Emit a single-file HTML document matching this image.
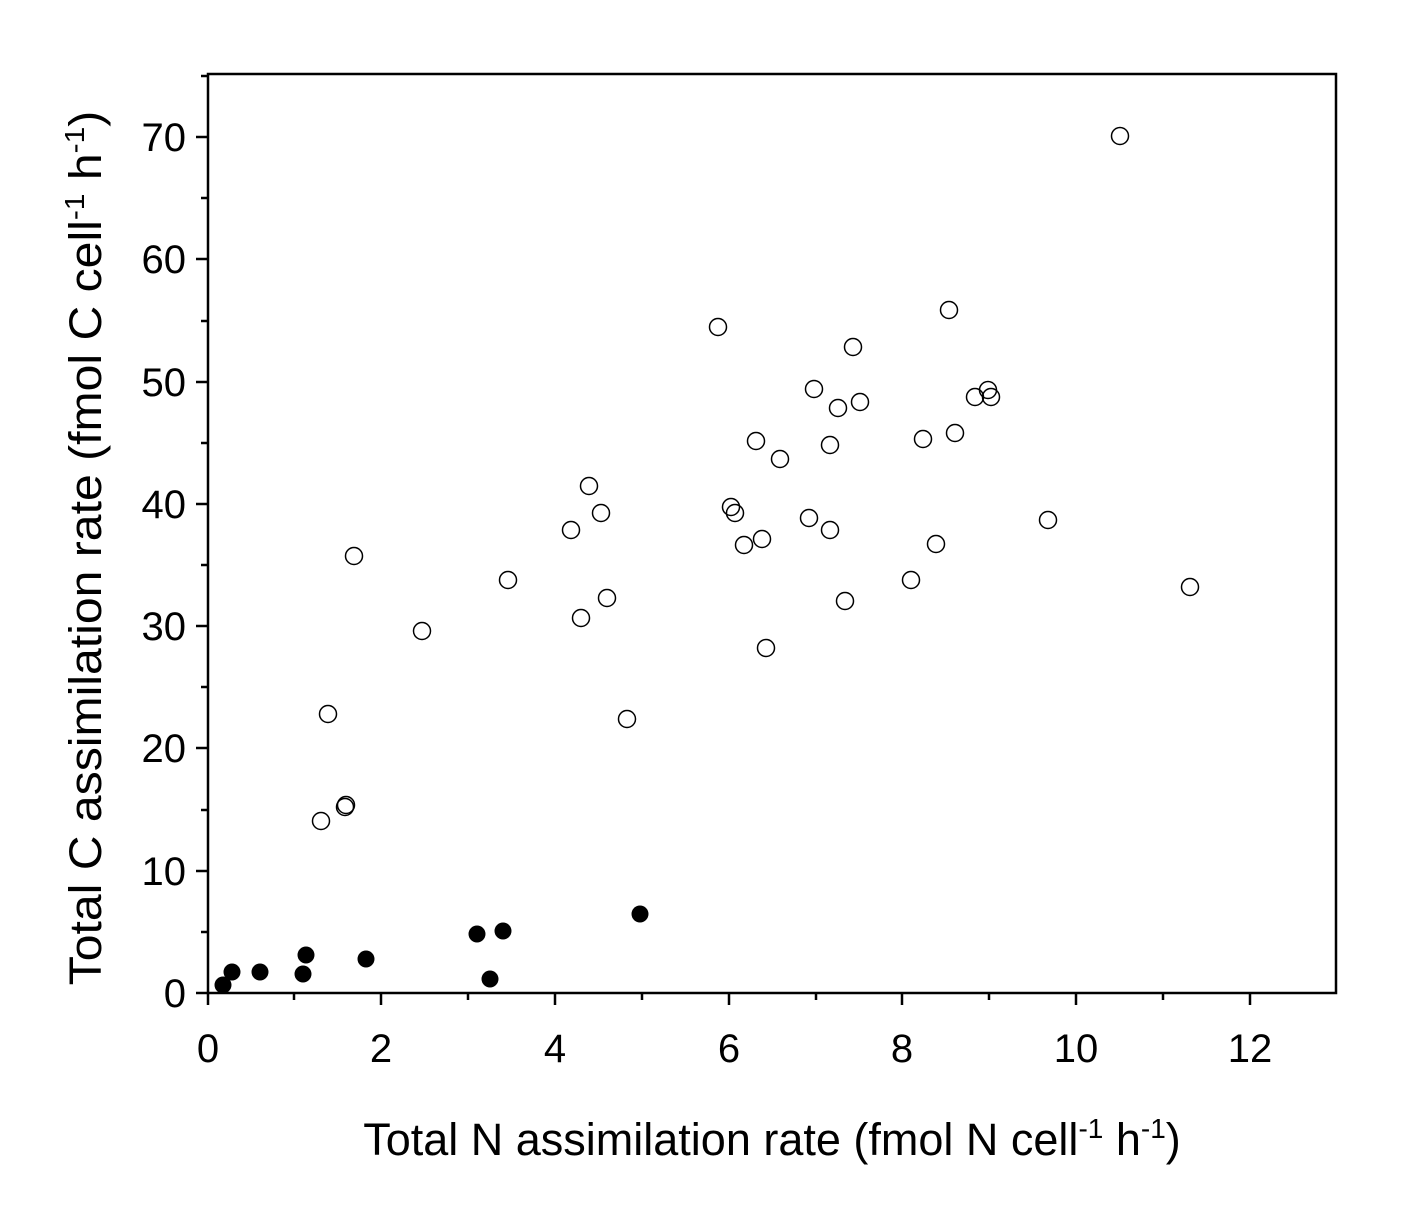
<!DOCTYPE html>
<html><head><style>body{margin:0;background:#fff}</style></head><body>
<svg width="1423" height="1201" xmlns="http://www.w3.org/2000/svg" font-family="Liberation Sans, Arial, sans-serif">
<rect x="208" y="74" width="1128" height="919" fill="none" stroke="#000" stroke-width="2.5"/>
<g stroke="#000" stroke-width="2.5">
<line x1="208" y1="993" x2="208" y2="1005"/><line x1="294" y1="993" x2="294" y2="1000"/>
<line x1="381" y1="993" x2="381" y2="1005"/><line x1="468" y1="993" x2="468" y2="1000"/>
<line x1="555" y1="993" x2="555" y2="1005"/><line x1="642" y1="993" x2="642" y2="1000"/>
<line x1="729" y1="993" x2="729" y2="1005"/><line x1="816" y1="993" x2="816" y2="1000"/>
<line x1="902" y1="993" x2="902" y2="1005"/><line x1="989" y1="993" x2="989" y2="1000"/>
<line x1="1076" y1="993" x2="1076" y2="1005"/><line x1="1163" y1="993" x2="1163" y2="1000"/>
<line x1="1250" y1="993" x2="1250" y2="1005"/>
<line x1="196" y1="993" x2="208" y2="993"/><line x1="201" y1="932" x2="208" y2="932"/>
<line x1="196" y1="871" x2="208" y2="871"/><line x1="201" y1="810" x2="208" y2="810"/>
<line x1="196" y1="748" x2="208" y2="748"/><line x1="201" y1="687" x2="208" y2="687"/>
<line x1="196" y1="626" x2="208" y2="626"/><line x1="201" y1="565" x2="208" y2="565"/>
<line x1="196" y1="504" x2="208" y2="504"/><line x1="201" y1="443" x2="208" y2="443"/>
<line x1="196" y1="382" x2="208" y2="382"/><line x1="201" y1="321" x2="208" y2="321"/>
<line x1="196" y1="259" x2="208" y2="259"/><line x1="201" y1="198" x2="208" y2="198"/>
<line x1="196" y1="137" x2="208" y2="137"/><line x1="201" y1="76" x2="208" y2="76"/>
</g>
<g font-size="40" text-anchor="middle">
<text x="208" y="1062">0</text><text x="381" y="1062">2</text><text x="555" y="1062">4</text><text x="729" y="1062">6</text><text x="902" y="1062">8</text><text x="1076" y="1062">10</text><text x="1250" y="1062">12</text>
</g>
<g font-size="40" text-anchor="end">
<text x="186" y="1007">0</text><text x="186" y="885">10</text><text x="186" y="762">20</text><text x="186" y="640">30</text><text x="186" y="518">40</text><text x="186" y="396">50</text><text x="186" y="273">60</text><text x="186" y="151">70</text>
</g>
<text x="772" y="1155" font-size="45" text-anchor="middle">Total N assimilation rate (fmol N cell<tspan dy="-17" font-size="28">-1</tspan><tspan dy="17"> h</tspan><tspan dy="-17" font-size="28">-1</tspan><tspan dy="17">)</tspan></text>
<text transform="translate(101,548) rotate(-90) scale(1.07,1)" font-size="45" text-anchor="middle">Total C assimilation rate (fmol C cell<tspan dy="-17" font-size="28">-1</tspan><tspan dy="17"> h</tspan><tspan dy="-17" font-size="28">-1</tspan><tspan dy="17">)</tspan></text>
<g fill="none" stroke="#000" stroke-width="1.5">
<circle cx="1120" cy="136" r="8.5"/><circle cx="949" cy="310" r="8.5"/><circle cx="718" cy="327" r="8.5"/><circle cx="853" cy="347" r="8.5"/><circle cx="814" cy="389" r="8.5"/><circle cx="860" cy="402" r="8.5"/><circle cx="838" cy="408" r="8.5"/><circle cx="975" cy="397" r="8.5"/><circle cx="988" cy="390" r="8.5"/><circle cx="991" cy="397" r="8.5"/><circle cx="756" cy="441" r="8.5"/><circle cx="830" cy="445" r="8.5"/><circle cx="923" cy="439" r="8.5"/><circle cx="955" cy="433" r="8.5"/><circle cx="780" cy="459" r="8.5"/><circle cx="589" cy="486" r="8.5"/><circle cx="731" cy="507" r="8.5"/><circle cx="735" cy="513" r="8.5"/><circle cx="601" cy="513" r="8.5"/><circle cx="571" cy="530" r="8.5"/><circle cx="809" cy="518" r="8.5"/><circle cx="830" cy="530" r="8.5"/><circle cx="1048" cy="520" r="8.5"/><circle cx="762" cy="539" r="8.5"/><circle cx="744" cy="545" r="8.5"/><circle cx="936" cy="544" r="8.5"/><circle cx="354" cy="556" r="8.5"/><circle cx="508" cy="580" r="8.5"/><circle cx="911" cy="580" r="8.5"/><circle cx="1190" cy="587" r="8.5"/><circle cx="607" cy="598" r="8.5"/><circle cx="845" cy="601" r="8.5"/><circle cx="581" cy="618" r="8.5"/><circle cx="422" cy="631" r="8.5"/><circle cx="766" cy="648" r="8.5"/><circle cx="627" cy="719" r="8.5"/><circle cx="328" cy="714" r="8.5"/><circle cx="346" cy="805" r="8.5"/><circle cx="345" cy="807" r="8.5"/><circle cx="321" cy="821" r="8.5"/>
</g>
<g fill="#000">
<circle cx="640" cy="914" r="8.5"/><circle cx="503" cy="931" r="8.5"/><circle cx="477" cy="934" r="8.5"/><circle cx="366" cy="959" r="8.5"/><circle cx="306" cy="955" r="8.5"/><circle cx="232" cy="972" r="8.5"/><circle cx="260" cy="972" r="8.5"/><circle cx="303" cy="974" r="8.5"/><circle cx="490" cy="979" r="8.5"/><circle cx="223" cy="985" r="8.5"/>
</g>
</svg>
</body></html>
